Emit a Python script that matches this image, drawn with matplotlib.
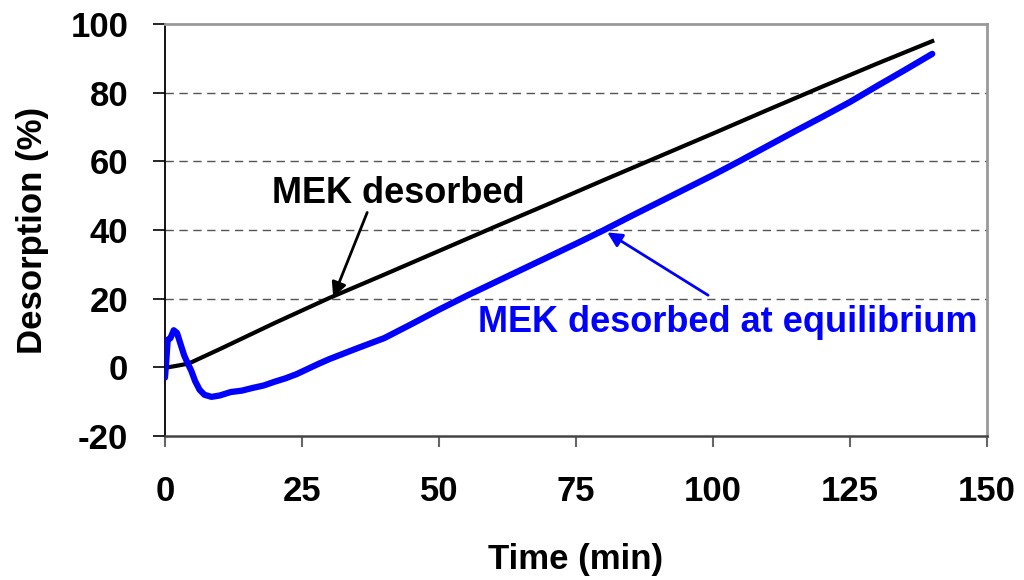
import matplotlib
matplotlib.use("Agg")
import matplotlib.pyplot as plt

plt.rcParams['font.family'] = ['Liberation Sans', 'DejaVu Sans']
plt.rcParams['font.weight'] = 'bold'

# Time (min) and desorption (%) series
time_total = [0, 0.5, 2, 4, 5, 10, 20, 30, 40, 50, 60, 70, 80, 90, 100, 110, 120, 130, 140]
desorbed_total = [0, 0.0, 0.4, 1.0, 1.6, 5.3, 12.9, 20.2, 27.0, 33.9, 40.8, 47.6, 54.5, 61.3, 68.1, 75.0, 81.8, 88.5, 95.0]

time_eq = [0, 0.2, 0.5, 1.0, 1.6, 2.2, 2.8, 3.5, 4.2, 4.8, 5.5, 6.3, 7.2, 8.5, 10, 12, 14, 16,
           18, 20, 22, 24, 26, 28, 30, 35, 40, 45, 50, 55, 60, 65, 70, 75, 80, 85, 90, 95,
           100, 105, 110, 115, 120, 125, 130, 135, 140]
desorbed_eq = [-3, 1, 8, 8.5, 10.8, 10, 7, 3.5, 1, -1, -4, -6.5, -8, -8.6, -8.2, -7.2, -6.8, -6.0,
               -5.3, -4.2, -3.2, -2.0, -0.5, 1.0, 2.4, 5.5, 8.5, 12.6, 16.8, 20.8, 24.6, 28.4, 32.2,
               36.0, 39.9, 44.0, 48.0, 52.0, 56.0, 60.2, 64.5, 68.8, 73.0, 77.3, 82.0, 86.6, 91.3]

x_ticks = [0, 25, 50, 75, 100, 125, 150]
y_ticks = [-20, 0, 20, 40, 60, 80, 100]

fig = plt.figure(figsize=(10.24, 5.8), dpi=100)
ax = fig.add_axes([0.1611, 0.2483, 0.9639 - 0.1611, 0.9586 - 0.2483])

for yv in [20, 40, 60, 80]:
    ax.axhline(yv, color='#555555', lw=1.0, ls=(0, (6, 4)), zorder=1)

ax.plot(time_total, desorbed_total, color='black', lw=3.0, zorder=3)
ax.plot(time_eq, desorbed_eq, color='#0000FF', lw=4.5, zorder=4,
        solid_capstyle='round', solid_joinstyle='round')

ax.set_xlim(0, 150)
ax.set_ylim(-20, 100)
ax.set_xticks(x_ticks)
ax.set_yticks(y_ticks)
ax.set_xticklabels([str(v) for v in x_ticks], fontsize=25, fontweight='bold')
ax.set_yticklabels([str(v) for v in y_ticks], fontsize=25, fontweight='bold')
ax.tick_params(axis='y', direction='out', length=8.5, width=1.2, color='black', pad=18)
ax.tick_params(axis='x', direction='out', length=8, width=1.5, color='#666666', pad=20)

ax.spines['left'].set_color('black')
ax.spines['left'].set_linewidth(1.3)
ax.spines['bottom'].set_color('#444444')
ax.spines['bottom'].set_linewidth(1.8)
for s in ['top', 'right']:
    ax.spines[s].set_color('#999999')
    ax.spines[s].set_linewidth(2.0)

ax.set_xlabel('Time (min)', fontsize=25, fontweight='bold', labelpad=25)
ax.set_ylabel('Desorption (%)', fontsize=25, fontweight='bold', labelpad=15)

# Callout labels
ax.text(42.5, 50.7, 'MEK desorbed', fontsize=26, fontweight='bold', color='black',
        ha='center', va='center', zorder=6)
ax.text(102.6, 13.1, 'MEK desorbed at equilibrium', fontsize=26, fontweight='bold',
        color='#0000FF', ha='center', va='center', zorder=6, clip_on=False)

# Callout arrows
ax.annotate('', xy=(30.7, 20.4), xytext=(36.9, 45.1),
            arrowprops=dict(arrowstyle='-|>', color='black', lw=2.0,
                            mutation_scale=22, shrinkA=0, shrinkB=0), zorder=6)
ax.annotate('', xy=(80.7, 39.3), xytext=(99.1, 21.0),
            arrowprops=dict(arrowstyle='-|>', color='#0000FF', lw=2.0,
                            mutation_scale=22, shrinkA=0, shrinkB=0), zorder=6)

fig.savefig('out.png', dpi=100)
